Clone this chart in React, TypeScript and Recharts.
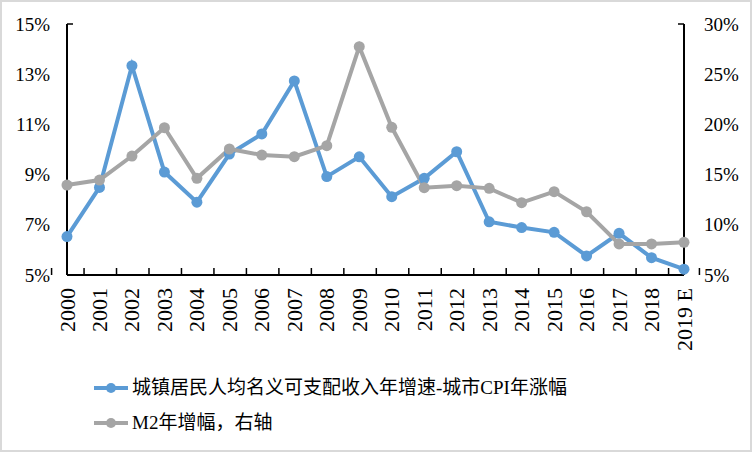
import React from 'react';
import { LineChart, Line, XAxis, YAxis } from 'recharts';

// values
const years = ['2000', '2001', '2002', '2003', '2004', '2005', '2006', '2007', '2008', '2009',
  '2010', '2011', '2012', '2013', '2014', '2015', '2016', '2017', '2018', '2019 E'];
const incomeGap = [6.53, 8.49, 13.34, 9.1, 7.9, 9.82, 10.62, 12.73, 8.92, 9.71,
  8.12, 8.85, 9.91, 7.12, 6.89, 6.7, 5.76, 6.66, 5.69, 5.23];
const m2Growth = [13.96, 14.46, 16.85, 19.67, 14.63, 17.55, 16.95, 16.79, 17.88, 27.74,
  19.71, 13.7, 13.9, 13.63, 12.2, 13.3, 11.3, 8.1, 8.1, 8.26];
const leftTicks = [5, 7, 9, 11, 13, 15];
const rightTicks = [5, 10, 15, 20, 25, 30];

const seriesNames = ['城镇居民人均名义可支配收入年增速-城市CPI年涨幅', 'M2年增幅，右轴'];
const colors = ['#5B9BD5', '#A5A5A5'];

const data = years.map((y, i) => ({ year: y, income: incomeGap[i], m2: m2Growth[i] }));

const W = 752;
const H = 452;
const LEFT_W = 67;
const RIGHT_W = 68;
const PLOT_W = W - LEFT_W - RIGHT_W;
const serif = '"Liberation Serif", "Times New Roman", serif';

const XTick = (props: any) => {
  const { x, y, payload, index } = props;
  const bw = PLOT_W / years.length;
  const ty = y + 13;
  return (
    <g>
      <line x1={x - bw / 2} x2={x - bw / 2} y1={y} y2={y - 7} stroke="#000" strokeWidth={1.5} />
      {index === years.length - 1 && (
        <line x1={x + bw / 2} x2={x + bw / 2} y1={y} y2={y - 7} stroke="#000" strokeWidth={1.5} />
      )}
      <text
        x={x}
        y={ty}
        transform={`rotate(-90, ${x}, ${ty})`}
        textAnchor="end"
        dominantBaseline="central"
        fontSize={22}
        fontFamily={serif}
        fill="#000"
      >
        {payload.value}
      </text>
    </g>
  );
};

const YTick = (props: any) => {
  const { x, y, payload, side, max } = props;
  const isLeft = side === 'left';
  return (
    <g>
      {payload.value === max && (
        <line x1={x} x2={isLeft ? x + 6 : x - 6} y1={y} y2={y} stroke="#000" strokeWidth={1.5} />
      )}
      <text
        x={isLeft ? x - 17 : x + 20}
        y={y}
        textAnchor={isLeft ? 'end' : 'start'}
        dominantBaseline="central"
        fontSize={19}
        fontFamily={serif}
        fill="#000"
      >
        {`${payload.value}%`}
      </text>
    </g>
  );
};

const LegendRow = ({ color, label, top }: { color: string; label: string; top: number }) => (
  <div style={{ position: 'absolute', left: 94, top, height: 24, display: 'flex', alignItems: 'center' }}>
    <svg width={34} height={12}>
      <line x1={0} x2={34} y1={6} y2={6} stroke={color} strokeWidth={4} />
      <circle cx={17} cy={6} r={5} fill={color} />
    </svg>
    <span
      style={{
        marginLeft: 4,
        fontSize: 19,
        lineHeight: '24px',
        color: '#000',
        fontFamily: '"Liberation Serif", "Noto Sans CJK SC", serif',
        whiteSpace: 'nowrap',
      }}
    >
      {label}
    </span>
  </div>
);

export default function App() {
  return (
    <div style={{ position: 'absolute', left: 0, top: 0, width: W, height: H, background: '#fff' }}>
      <LineChart width={W} height={H} data={data} margin={{ top: 24, right: 0, bottom: 87, left: 0 }}>
        <XAxis
          dataKey="year"
          interval={0}
          height={90}
          tickSize={0}
          tickMargin={0}
          tickLine={false}
          axisLine={{ stroke: '#000', strokeWidth: 2 }}
          tick={<XTick />}
        />
        <YAxis
          yAxisId="left"
          orientation="left"
          width={LEFT_W}
          domain={[5, 15]}
          ticks={leftTicks}
          interval={0}
          tickSize={0}
          tickMargin={0}
          tickLine={false}
          axisLine={{ stroke: '#000', strokeWidth: 2 }}
          tick={<YTick side="left" max={15} />}
        />
        <YAxis
          yAxisId="right"
          orientation="right"
          width={RIGHT_W}
          domain={[5, 30]}
          ticks={rightTicks}
          interval={0}
          tickSize={0}
          tickMargin={0}
          tickLine={false}
          axisLine={{ stroke: '#000', strokeWidth: 2 }}
          tick={<YTick side="right" max={30} />}
        />
        <Line
          yAxisId="left"
          dataKey="income"
          name={seriesNames[0]}
          stroke={colors[0]}
          strokeWidth={4}
          dot={{ r: 5.5, fill: colors[0], stroke: 'none' }}
          isAnimationActive={false}
        />
        <Line
          yAxisId="right"
          dataKey="m2"
          name={seriesNames[1]}
          stroke={colors[1]}
          strokeWidth={4}
          dot={{ r: 5.5, fill: colors[1], stroke: 'none' }}
          isAnimationActive={false}
        />
      </LineChart>
      <LegendRow color={colors[0]} label={seriesNames[0]} top={376} />
      <LegendRow color={colors[1]} label={seriesNames[1]} top={411} />
      <div
        style={{
          position: 'absolute',
          inset: 0,
          border: '2px solid #d9d9d9',
          boxSizing: 'border-box',
          pointerEvents: 'none',
        }}
      />
    </div>
  );
}
